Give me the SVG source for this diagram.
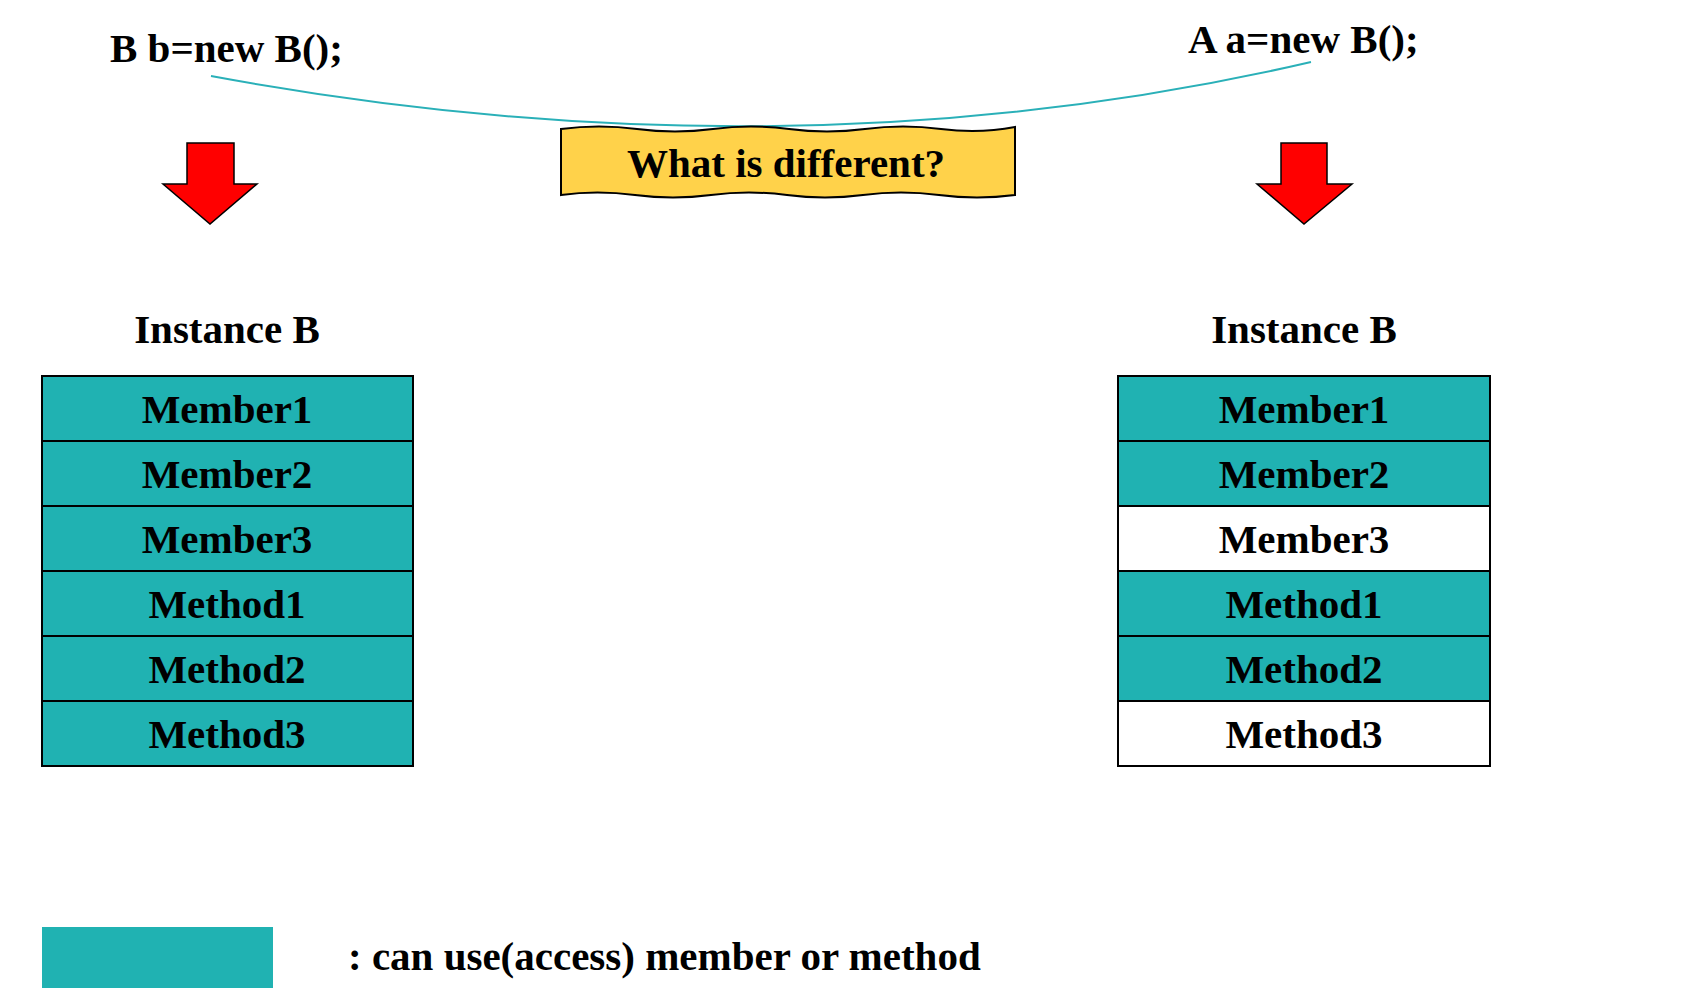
<svg xmlns="http://www.w3.org/2000/svg" width="1689" height="1005" viewBox="0 0 1689 1005">
<style>
text{font-family:"Liberation Serif","Times New Roman",serif;font-weight:bold;font-size:41px;fill:#000}
.c{text-anchor:middle}
.acc{fill:#20B2B2;stroke:#000;stroke-width:2}
.no{fill:#fff;stroke:#000;stroke-width:2}
.arrow{fill:#FF0000;stroke:#000;stroke-width:1.5;stroke-linejoin:miter}
</style>
<rect width="1689" height="1005" fill="#fff"/>
<g id="connectors">
<path d="M211,76 Q789,183 1311,62" fill="none" stroke="#2AB0B8" stroke-width="2"/>
</g>
<g id="code-left"><text x="110" y="62">B b=new B();</text></g>
<g id="code-right"><text x="1188" y="53">A a=new B();</text></g>
<g id="banner">
<path d="M561,129 Q599,124 637,129 T713,129 T789,129 T865,129 T941,129 T1015,127 L1015,195 Q977,200 939,195 T863,195 T787,195 T711,195 T635,195 T561,195 Z" fill="#FFD24A" stroke="#000" stroke-width="2"/>
<text class="c" x="786" y="177">What is different?</text>
</g>
<g id="arrow-left"><polygon class="arrow" points="187,143 234,143 234,184 257,184 210,224 163,184 187,184"/></g>
<g id="arrow-right"><polygon class="arrow" points="1281,143 1327,143 1327,184 1352,184 1304,224 1257,184 1281,184"/></g>
<g id="instance-left">
<text class="c" x="227" y="343">Instance B</text>
<rect class="acc" x="42" y="376" width="371" height="65"/>
<rect class="acc" x="42" y="441" width="371" height="65"/>
<rect class="acc" x="42" y="506" width="371" height="65"/>
<rect class="acc" x="42" y="571" width="371" height="65"/>
<rect class="acc" x="42" y="636" width="371" height="65"/>
<rect class="acc" x="42" y="701" width="371" height="65"/>
<text class="c" x="227" y="423">Member1</text>
<text class="c" x="227" y="488">Member2</text>
<text class="c" x="227" y="553">Member3</text>
<text class="c" x="227" y="618">Method1</text>
<text class="c" x="227" y="683">Method2</text>
<text class="c" x="227" y="748">Method3</text>
</g>
<g id="instance-right">
<text class="c" x="1304" y="343">Instance B</text>
<rect class="acc" x="1118" y="376" width="372" height="65"/>
<rect class="acc" x="1118" y="441" width="372" height="65"/>
<rect class="no" x="1118" y="506" width="372" height="65"/>
<rect class="acc" x="1118" y="571" width="372" height="65"/>
<rect class="acc" x="1118" y="636" width="372" height="65"/>
<rect class="no" x="1118" y="701" width="372" height="65"/>
<text class="c" x="1304" y="423">Member1</text>
<text class="c" x="1304" y="488">Member2</text>
<text class="c" x="1304" y="553">Member3</text>
<text class="c" x="1304" y="618">Method1</text>
<text class="c" x="1304" y="683">Method2</text>
<text class="c" x="1304" y="748">Method3</text>
</g>
<g id="legend">
<rect x="42" y="927" width="231" height="61" fill="#20B2B2"/>
<text x="348" y="970">: can use(access) member or method</text>
</g>
</svg>
